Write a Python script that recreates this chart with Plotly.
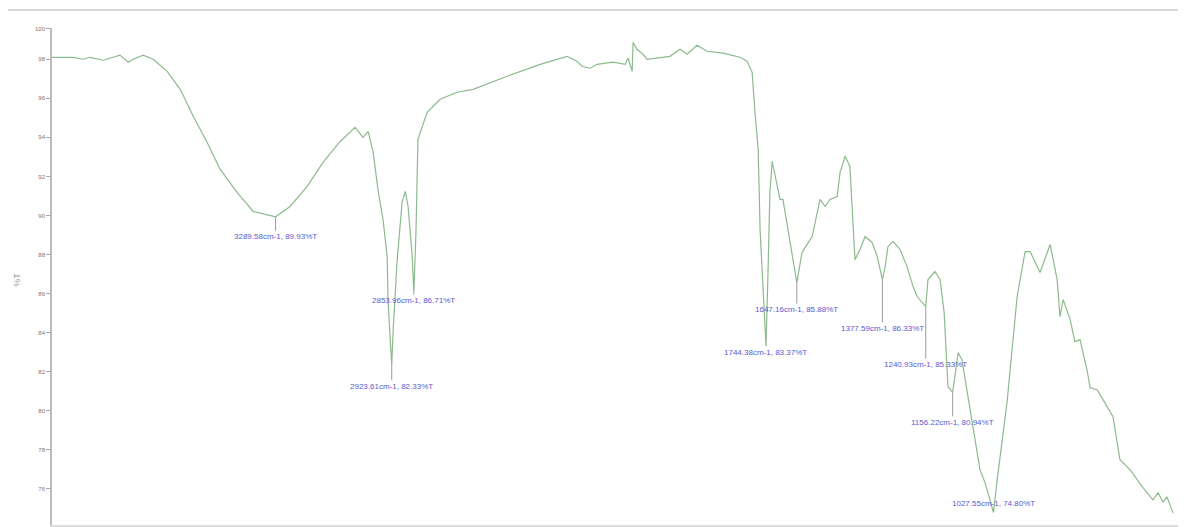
import plotly.graph_objects as go

# FTIR spectrum (wavenumber cm-1, %T)
wavenumber = [3994, 3928, 3896, 3874, 3833, 3780, 3754, 3738, 3707, 3675,
              3631, 3590, 3549, 3505, 3464, 3411, 3360, 3289.58, 3244, 3190,
              3140, 3086, 3039, 3014, 2998, 2982, 2967, 2951, 2938, 2935,
              2923.61, 2919, 2907, 2891, 2881, 2872, 2859, 2853.96, 2847, 2841,
              2812, 2771, 2718, 2667, 2560, 2456, 2371, 2340, 2324, 2299,
              2277, 2226, 2188, 2179, 2166, 2163, 2151, 2132, 2119, 2078,
              2047, 2015, 1993, 1962, 1930, 1880, 1826, 1804, 1788, 1779,
              1769, 1763, 1744.38, 1738, 1732, 1725, 1710, 1700, 1691, 1669,
              1647.16, 1631, 1615, 1599, 1574, 1558, 1543, 1520, 1511, 1495,
              1480, 1470, 1464, 1448, 1432, 1410, 1394, 1377.59, 1369, 1360,
              1344, 1322, 1300, 1281, 1268, 1240.93, 1234, 1212, 1196, 1183,
              1177, 1171, 1156.22, 1139, 1127, 1111, 1092, 1070, 1054, 1027.55,
              1016, 985, 953, 928, 912, 881, 849, 827, 818, 808,
              786, 771, 755, 733, 723, 701, 682, 651, 629, 597,
              556, 525, 509, 493, 481, 462]
transmittance = [98.10, 98.10, 98.00, 98.10, 97.95, 98.21, 97.85, 98.00, 98.21, 98.00,
                 97.38, 96.46, 95.08, 93.74, 92.36, 91.18, 90.21, 89.93, 90.46, 91.49,
                 92.72, 93.79, 94.51, 94.00, 94.31, 93.23, 91.33, 89.79, 87.90, 85.54,
                 82.33, 84.15, 87.59, 90.67, 91.23, 90.46, 87.90, 86.05, 89.28, 93.90,
                 95.28, 95.95, 96.31, 96.46, 97.13, 97.74, 98.15, 97.90, 97.64, 97.54,
                 97.74, 97.85, 97.74, 98.05, 97.38, 98.87, 98.51, 98.26, 98.00, 98.10,
                 98.15, 98.51, 98.26, 98.72, 98.41, 98.31, 98.10, 97.90, 97.33, 95.28,
                 93.38, 89.28, 83.30, 87.08, 91.18, 92.77, 91.49, 90.82, 90.82, 88.77,
                 86.56, 88.10, 88.51, 88.92, 90.82, 90.46, 90.82, 90.97, 92.21, 93.03,
                 92.51, 89.44, 87.74, 88.26, 88.92, 88.62, 87.90, 86.72, 87.38, 88.41,
                 88.67, 88.26, 87.38, 86.36, 85.85, 85.33, 86.72, 87.13, 86.72, 85.03,
                 82.77, 81.23, 80.94, 82.97, 82.62, 81.08, 79.03, 76.97, 76.31, 74.80,
                 76.46, 80.41, 85.85, 88.15, 88.15, 87.08, 88.51, 86.72, 84.82, 85.69,
                 84.67, 83.54, 83.64, 82.10, 81.18, 81.08, 80.56, 79.69, 77.49, 76.97,
                 76.05, 75.44, 75.79, 75.33, 75.59, 74.77]

# Peak labels
peak_wn = [3289.58, 2853.96, 2923.61, 1744.38, 1647.16, 1377.59, 1240.93, 1156.22, 1027.55]
peak_t = [89.93, 86.05, 82.33, 83.30, 86.56, 86.72, 85.33, 80.94, 74.80]
peak_text = ["3289.58cm-1, 89.93%T", "2853.96cm-1, 86.71%T", "2923.61cm-1, 82.33%T",
             "1744.38cm-1, 83.37%T", "1647.16cm-1, 85.88%T", "1377.59cm-1, 86.33%T",
             "1240.93cm-1, 85.33%T", "1156.22cm-1, 80.94%T", "1027.55cm-1, 74.80%T"]
label_drop_px = [20, 8, 21, 6, 27, 49, 58, 30, -9]

ytick_vals = [76, 78, 80, 82, 84, 86, 88, 90, 92, 94, 96, 98, 99.55]
ytick_text = ["76", "78", "80", "82", "84", "86", "88", "90", "92", "94", "96", "98", "100"]

fig = go.Figure()
fig.add_trace(go.Scatter(x=wavenumber, y=transmittance, mode="lines",
                         line=dict(color="#8cba8c", width=1.2), hoverinfo="skip"))

for wn, t, txt, dy in zip(peak_wn, peak_t, peak_text, label_drop_px):
    fig.add_annotation(x=wn, y=t, text=txt, showarrow=True, ax=0, ay=dy,
                       arrowhead=0, arrowwidth=1, arrowcolor="#9a9a9a", standoff=0,
                       font=dict(family="Liberation Sans, Arial", size=8, color="#5a5ad0"))

fig.add_annotation(xref="paper", yref="paper", x=-0.031, y=0.493, text="%T",
                   textangle=-90, showarrow=False, xanchor="center",
                   font=dict(family="Liberation Sans, Arial", size=9, color="#999999"))

# frame line at the top of the screenshot
fig.add_shape(type="line", xref="paper", yref="paper", x0=-0.05, x1=1.0, y0=1.036, y1=1.036,
              line=dict(color="#d8d8d8", width=2))

fig.update_layout(
    width=1178, height=519,
    margin=dict(l=44, r=0, t=20, b=2),
    plot_bgcolor="white", paper_bgcolor="white",
    showlegend=False,
    xaxis=dict(range=[3994, 421], showgrid=False, zeroline=False, showticklabels=False,
               showline=True, linecolor="#dddddd", linewidth=2, ticks=""),
    yaxis=dict(range=[74.15, 99.6], showgrid=False, zeroline=False,
               tickvals=ytick_vals, ticktext=ytick_text,
               tickfont=dict(family="Liberation Sans, Arial", size=6, color="#777777"),
               ticks="outside", ticklen=4, tickcolor="#aaaaaa",
               showline=True, linecolor="#bbbbbb", linewidth=1.5),
)

fig.write_html("out.html")
